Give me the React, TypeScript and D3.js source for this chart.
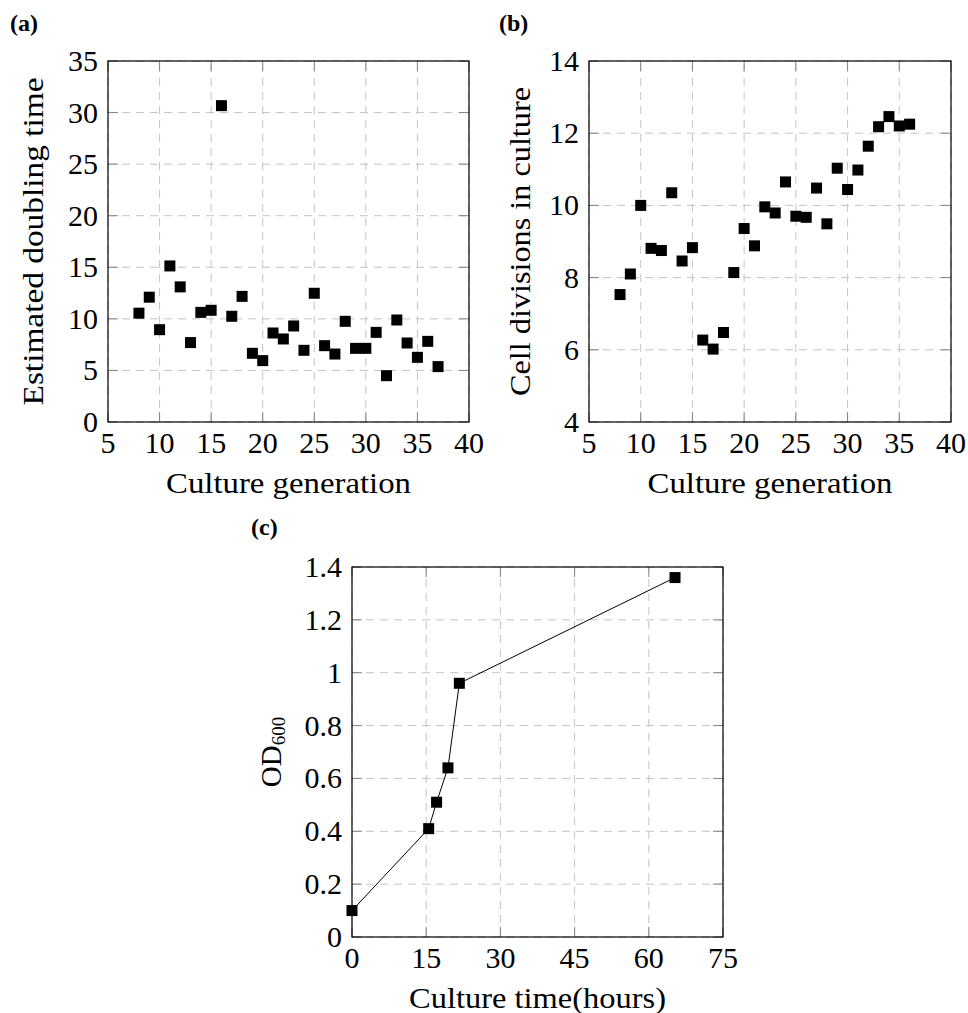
import React from "react";
import * as d3 from "d3";

// ---- Data ----
const generationA = [8, 9, 10, 11, 12, 13, 14, 15, 16, 17, 18, 19, 20, 21, 22, 23, 24, 25, 26, 27, 28, 29, 30, 31, 32, 33, 34, 35, 36, 37];
const doublingTime = [10.55, 12.1, 8.95, 15.13, 13.1, 7.7, 10.63, 10.83, 30.67, 10.25, 12.18, 6.66, 5.95, 8.63, 8.05, 9.31, 6.95, 12.48, 7.4, 6.59, 9.76, 7.14, 7.14, 8.69, 4.49, 9.89, 7.66, 6.27, 7.82, 5.37];

const generationB = [8, 9, 10, 11, 12, 13, 14, 15, 16, 17, 18, 19, 20, 21, 22, 23, 24, 25, 26, 27, 28, 29, 30, 31, 32, 33, 34, 35, 36];
const cellDivisions = [7.53, 8.1, 10.0, 8.81, 8.75, 10.35, 8.46, 8.83, 6.27, 6.02, 6.48, 8.14, 9.36, 8.88, 9.96, 9.79, 10.65, 9.7, 9.67, 10.48, 9.49, 11.03, 10.44, 10.98, 11.64, 12.18, 12.46, 12.2, 12.25];

const cultureHours = [0, 15.5, 17.1, 19.4, 21.7, 65.3];
const od600 = [0.1, 0.41, 0.51, 0.64, 0.96, 1.36];

const xTicksAB = [5, 10, 15, 20, 25, 30, 35, 40];
const yTicksA = [0, 5, 10, 15, 20, 25, 30, 35];
const yTicksB = [4, 6, 8, 10, 12, 14];
const xTicksC = [0, 15, 30, 45, 60, 75];
const yTicksC = [0, 0.2, 0.4, 0.6, 0.8, 1, 1.2, 1.4];

const FONT = "'Liberation Serif', 'Times New Roman', serif";
const TICK_FS = 30;
const LABEL_FS = 29;

type PanelProps = {
  left: number;
  top: number;
  w: number;
  h: number;
  xTicks: number[];
  yTicks: number[];
  xs: number[];
  ys: number[];
  line?: boolean;
  xLabel: string;
  xLabelLen: number;
  yLabel: React.ReactNode;
  yLabelLen?: number;
  yLabelX: number;
  tag: string;
  tagX: number;
  tagY: number;
};

function Panel(p: PanelProps) {
  const xDomain = [p.xTicks[0], p.xTicks[p.xTicks.length - 1]];
  const yDomain = [p.yTicks[0], p.yTicks[p.yTicks.length - 1]];
  const x = d3.scaleLinear().domain(xDomain).range([p.left, p.left + p.w]);
  const y = d3.scaleLinear().domain(yDomain).range([p.top + p.h, p.top]);
  const bottom = p.top + p.h;
  const right = p.left + p.w;
  const tl = 10;
  const pts = p.xs.map((v, i) => [x(v), y(p.ys[i])] as [number, number]);
  const lineGen = d3.line();
  const gridStyle = { stroke: "#c4c4c4", strokeWidth: 1, strokeDasharray: "8,6" };
  const tickStyle = { stroke: "#858585", strokeWidth: 1 };
  return (
    <g>
      {p.xTicks.map((t) => (
        <line key={"gx" + t} x1={x(t)} x2={x(t)} y1={bottom} y2={p.top} style={gridStyle} />
      ))}
      {p.yTicks.map((t) => (
        <line key={"gy" + t} x1={p.left} x2={right} y1={y(t)} y2={y(t)} style={gridStyle} />
      ))}
      {p.xTicks.map((t) => (
        <g key={"tx" + t}>
          <line x1={x(t)} x2={x(t)} y1={bottom} y2={bottom - tl} style={tickStyle} />
          <line x1={x(t)} x2={x(t)} y1={p.top} y2={p.top + tl} style={tickStyle} />
        </g>
      ))}
      {p.yTicks.map((t) => (
        <g key={"ty" + t}>
          <line x1={p.left} x2={p.left + tl} y1={y(t)} y2={y(t)} style={tickStyle} />
          <line x1={right} x2={right - tl} y1={y(t)} y2={y(t)} style={tickStyle} />
        </g>
      ))}
      <rect x={p.left} y={p.top} width={p.w} height={p.h} fill="none" stroke="#000" strokeWidth={1.2} />
      {p.line && <path d={lineGen(pts) || ""} fill="none" stroke="#000" strokeWidth={1} />}
      {pts.map((d, i) => (
        <rect key={"m" + i} x={d[0] - 5.5} y={d[1] - 5.5} width={11} height={11} fill="#000" />
      ))}
      {p.xTicks.map((t) => (
        <text key={"lx" + t} x={x(t)} y={bottom + 31} textAnchor="middle" fontSize={TICK_FS} fontFamily={FONT} fill="#000">
          {String(t)}
        </text>
      ))}
      {p.yTicks.map((t) => (
        <text key={"ly" + t} x={p.left - 10} y={y(t) + 10} textAnchor="end" fontSize={TICK_FS} fontFamily={FONT} fill="#000">
          {String(t)}
        </text>
      ))}
      <text
        x={(p.left + right) / 2}
        y={bottom + 71}
        textAnchor="middle"
        fontSize={LABEL_FS}
        fontFamily={FONT}
        textLength={p.xLabelLen}
        lengthAdjust="spacingAndGlyphs"
        fill="#000"
      >
        {p.xLabel}
      </text>
      <text
        transform={`translate(${p.yLabelX},${(p.top + bottom) / 2}) rotate(-90)`}
        textAnchor="middle"
        fontSize={LABEL_FS}
        fontFamily={FONT}
        textLength={p.yLabelLen}
        lengthAdjust={p.yLabelLen ? "spacingAndGlyphs" : undefined}
        fill="#000"
      >
        {p.yLabel}
      </text>
      <text x={p.tagX} y={p.tagY} fontSize={24} fontWeight="bold" fontFamily={FONT} fill="#000">
        {p.tag}
      </text>
    </g>
  );
}

export default function App() {
  return (
    <svg
      width={968}
      height={1013}
      viewBox="0 0 968 1013"
      style={{ position: "absolute", left: 0, top: 0, background: "#fff" }}
    >
      <rect x={0} y={0} width={968} height={1013} fill="#fff" />
      <Panel
        left={108}
        top={61}
        w={361}
        h={361}
        xTicks={xTicksAB}
        yTicks={yTicksA}
        xs={generationA}
        ys={doublingTime}
        xLabel="Culture generation"
        xLabelLen={245}
        yLabel="Estimated doubling time"
        yLabelLen={328}
        yLabelX={43}
        tag="(a)"
        tagX={10}
        tagY={31}
      />
      <Panel
        left={589}
        top={61}
        w={362}
        h={361}
        xTicks={xTicksAB}
        yTicks={yTicksB}
        xs={generationB}
        ys={cellDivisions}
        xLabel="Culture generation"
        xLabelLen={245}
        yLabel="Cell divisions in culture"
        yLabelLen={309}
        yLabelX={530}
        tag="(b)"
        tagX={499}
        tagY={31}
      />
      <Panel
        left={352}
        top={567}
        w={371}
        h={370}
        xTicks={xTicksC}
        yTicks={yTicksC}
        xs={cultureHours}
        ys={od600}
        line
        xLabel="Culture time(hours)"
        xLabelLen={257}
        yLabel={
          <>
            <tspan>OD</tspan>
            <tspan fontSize={19} dy={4}>600</tspan>
          </>
        }
        yLabelX={281}
        tag="(c)"
        tagX={251}
        tagY={535}
      />
    </svg>
  );
}
